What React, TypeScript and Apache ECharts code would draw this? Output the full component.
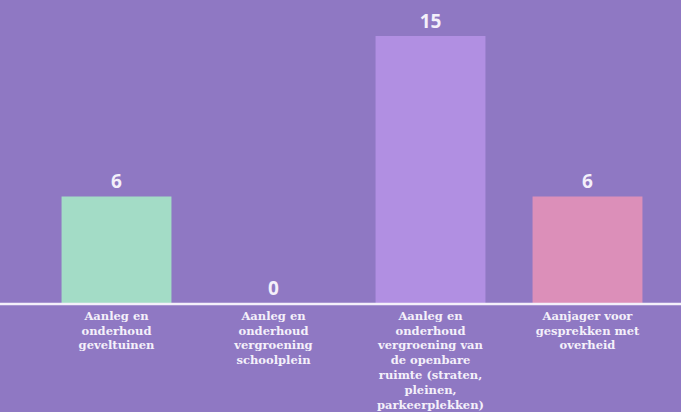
import React, { useEffect, useRef } from "react";
import * as echarts from "echarts";

const categories = [
  "Aanleg en\nonderhoud\ngeveltuinen",
  "Aanleg en\nonderhoud\nvergroening\nschoolplein",
  "Aanleg en\nonderhoud\nvergroening van\nde openbare\nruimte (straten,\npleinen,\nparkeerplekken)",
  "Aanjager voor\ngesprekken met\noverheid",
];
const values = [6, 0, 15, 6];
const barColors = ["#a3dcc6", "#a3dcc6", "#b18fe2", "#dc8fb9"];

export default function App() {
  const ref = useRef<HTMLDivElement>(null);
  useEffect(() => {
    document.body.style.margin = "0";
    const chart = echarts.init(ref.current!, null, { renderer: "svg" });
    const gridTop = 36;
    const gridBottom = 108;
    chart.setOption({
      animation: false,
      backgroundColor: "#8f78c3",
      grid: { left: 38, right: 15, top: gridTop, bottom: gridBottom },
      xAxis: {
        type: "category",
        data: categories,
        axisLine: { show: false },
        axisTick: { show: false },
        axisLabel: {
          interval: 0,
          color: "#f4f0fa",
          fontFamily: "DejaVu Serif",
          fontWeight: "bold",
          fontSize: 11.5,
          lineHeight: 14.8,
          margin: 5,
          align: "center",
        },
      },
      yAxis: {
        type: "value",
        min: 0,
        max: 15,
        show: false,
        splitLine: { show: false },
      },
      graphic: [
        {
          type: "line",
          shape: { x1: 0, y1: 412 - gridBottom, x2: 681, y2: 412 - gridBottom },
          style: { stroke: "#f4f0fa", lineWidth: 2.5 },
          z: 10,
        },
      ],
      series: [
        {
          type: "bar",
          data: values.map((v, i) => ({ value: v, itemStyle: { color: barColors[i] } })),
          barWidth: "70%",
          label: {
            show: true,
            position: "top",
            distance: 6,
            color: "#f4f0fa",
            fontFamily: "Open Sans",
            fontWeight: "bold",
            fontSize: 19,
          },
        },
      ],
    });
    return () => chart.dispose();
  }, []);
  return <div ref={ref} style={{ width: 681, height: 412 }} />;
}
